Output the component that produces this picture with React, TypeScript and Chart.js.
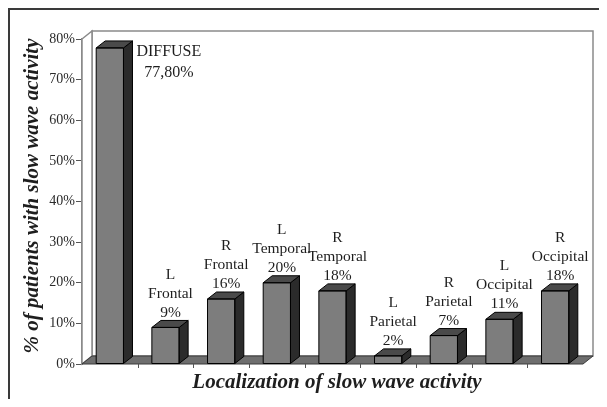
import React, { useEffect, useRef } from "react";
import { Chart, registerables } from "chart.js";

Chart.register(...registerables);

const categories = ["DIFFUSE", "L Frontal", "R Frontal", "L Temporal", "R Temporal", "L Parietal", "R Parietal", "L Occipital", "R Occipital"];
const values = [77.8, 9, 16, 20, 18, 2, 7, 11, 18];
const percentLabels = ["77,80%", "9%", "16%", "20%", "18%", "2%", "7%", "11%", "18%"];
const yTicks = [0, 10, 20, 30, 40, 50, 60, 70, 80];
const yTitle = "% of patients with slow wave activity";
const xTitle = "Localization of slow wave activity";

const SERIF = "'Liberation Serif', 'Times New Roman', serif";
const WALL = { dx: 10, dy: -8 };
const BAR = { dx: 9, dy: -7 };

const threeD = {
  id: "threeD",
  beforeDatasetsDraw(chart: any) {
    const { ctx, chartArea } = chart;
    const { left, right, top, bottom } = chartArea;
    const { dx, dy } = WALL;
    ctx.save();
    ctx.lineWidth = 1.5;
    ctx.strokeStyle = "#8a8a8a";
    ctx.fillStyle = "#ffffff";
    ctx.beginPath();
    ctx.rect(left + dx, top + dy, right - left, bottom - top);
    ctx.fill();
    ctx.stroke();
    ctx.beginPath();
    ctx.moveTo(left, top);
    ctx.lineTo(left + dx, top + dy);
    ctx.lineTo(left + dx, bottom + dy);
    ctx.lineTo(left, bottom);
    ctx.closePath();
    ctx.fill();
    ctx.stroke();
    ctx.beginPath();
    ctx.moveTo(left, bottom);
    ctx.lineTo(left + dx, bottom + dy);
    ctx.lineTo(right + dx, bottom + dy);
    ctx.lineTo(right, bottom);
    ctx.closePath();
    ctx.fillStyle = "#6e6e6e";
    ctx.fill();
    ctx.strokeStyle = "#3a3a3a";
    ctx.lineWidth = 1;
    ctx.stroke();
    const n = categories.length;
    const step = (right - left) / n;
    ctx.strokeStyle = "#555";
    ctx.beginPath();
    for (let k = 1; k < n; k++) {
      const x = Math.round(left + step * k) + 0.5;
      ctx.moveTo(x, bottom);
      ctx.lineTo(x, bottom + 4);
    }
    ctx.stroke();
    ctx.restore();
  },
  afterDatasetsDraw(chart: any) {
    const { ctx } = chart;
    const meta = chart.getDatasetMeta(0);
    ctx.save();
    ctx.lineWidth = 1;
    ctx.strokeStyle = "#000";
    ctx.lineJoin = "round";
    meta.data.forEach((bar: any) => {
      const w = bar.width;
      const l = bar.x - w / 2;
      const r = bar.x + w / 2;
      const t = bar.y;
      const b = bar.base;
      ctx.beginPath();
      ctx.moveTo(r, t);
      ctx.lineTo(r + BAR.dx, t + BAR.dy);
      ctx.lineTo(r + BAR.dx, b + BAR.dy);
      ctx.lineTo(r, b);
      ctx.closePath();
      ctx.fillStyle = "#2b2b2b";
      ctx.fill();
      ctx.stroke();
      ctx.beginPath();
      ctx.moveTo(l, t);
      ctx.lineTo(l + BAR.dx, t + BAR.dy);
      ctx.lineTo(r + BAR.dx, t + BAR.dy);
      ctx.lineTo(r, t);
      ctx.closePath();
      ctx.fillStyle = "#4a4a4a";
      ctx.fill();
      ctx.stroke();
      ctx.strokeRect(l, t, w, b - t);
    });
    ctx.restore();
  },
  afterDraw(chart: any) {
    const { ctx } = chart;
    const meta = chart.getDatasetMeta(0);
    ctx.save();
    ctx.fillStyle = "#1e1e1e";
    ctx.textAlign = "center";
    ctx.textBaseline = "middle";
    meta.data.forEach((bar: any, i: number) => {
      if (i === 0) {
        ctx.font = `16px ${SERIF}`;
        const cx = bar.x + 59;
        ctx.fillText(categories[i], cx, bar.y + 4);
        ctx.fillText(percentLabels[i], cx, bar.y + 25);
        return;
      }
      ctx.font = `15.5px ${SERIF}`;
      const lines = [...categories[i].split(" "), percentLabels[i]];
      const cx = bar.x + 5;
      const lastY = bar.y + BAR.dy - 8;
      const lh = 19;
      lines.forEach((ln, j) => {
        ctx.fillText(ln, cx, lastY - (lines.length - 1 - j) * lh);
      });
    });
    ctx.font = `bold italic 21px ${SERIF}`;
    ctx.save();
    ctx.translate(23, 186);
    ctx.rotate(-Math.PI / 2);
    ctx.fillText(yTitle, 0, 0);
    ctx.restore();
    ctx.font = `bold italic 21px ${SERIF}`;
    ctx.fillText(xTitle, 327, 373);
    ctx.restore();
  },
};

export default function App() {
  const ref = useRef<HTMLCanvasElement>(null);
  useEffect(() => {
    if (!ref.current) return;
    const chart = new Chart(ref.current, {
      type: "bar",
      data: {
        labels: categories,
        datasets: [
          {
            data: values,
            backgroundColor: "#7d7d7d",
            borderWidth: 0,
            barPercentage: 0.49,
            categoryPercentage: 1,
          },
        ],
      },
      options: {
        responsive: false,
        animation: false,
        events: [],
        layout: { padding: { left: 0, right: 16, top: 29, bottom: 0 } },
        plugins: { legend: { display: false }, tooltip: { enabled: false } },
        scales: {
          x: {
            offset: true,
            grid: { display: false },
            border: { display: false },
            ticks: { display: false },
            afterFit: (s: any) => {
              s.height = 35;
            },
          },
          y: {
            min: 0,
            max: 80,
            afterBuildTicks: (s: any) => {
              s.ticks = yTicks.map((v) => ({ value: v }));
            },
            ticks: {
              callback: (v: any) => v + "%",
              font: { family: SERIF, size: 14 },
              color: "#2a2a2a",
              padding: 1,
            },
            grid: { drawOnChartArea: false, drawTicks: true, tickLength: 6, color: "#555" },
            border: { display: true, color: "#8a8a8a", width: 1.5 },
            afterFit: (s: any) => {
              s.width = 72;
            },
          },
        },
      },
      plugins: [threeD],
    });
    return () => chart.destroy();
  }, []);
  return (
    <div
      style={{
        width: 591,
        height: 391,
        borderLeft: "2px solid #3a3a3a",
        borderTop: "2px solid #3a3a3a",
        boxSizing: "border-box",
      }}
    >
      <canvas ref={ref} width={589} height={389} style={{ display: "block" }} />
    </div>
  );
}
